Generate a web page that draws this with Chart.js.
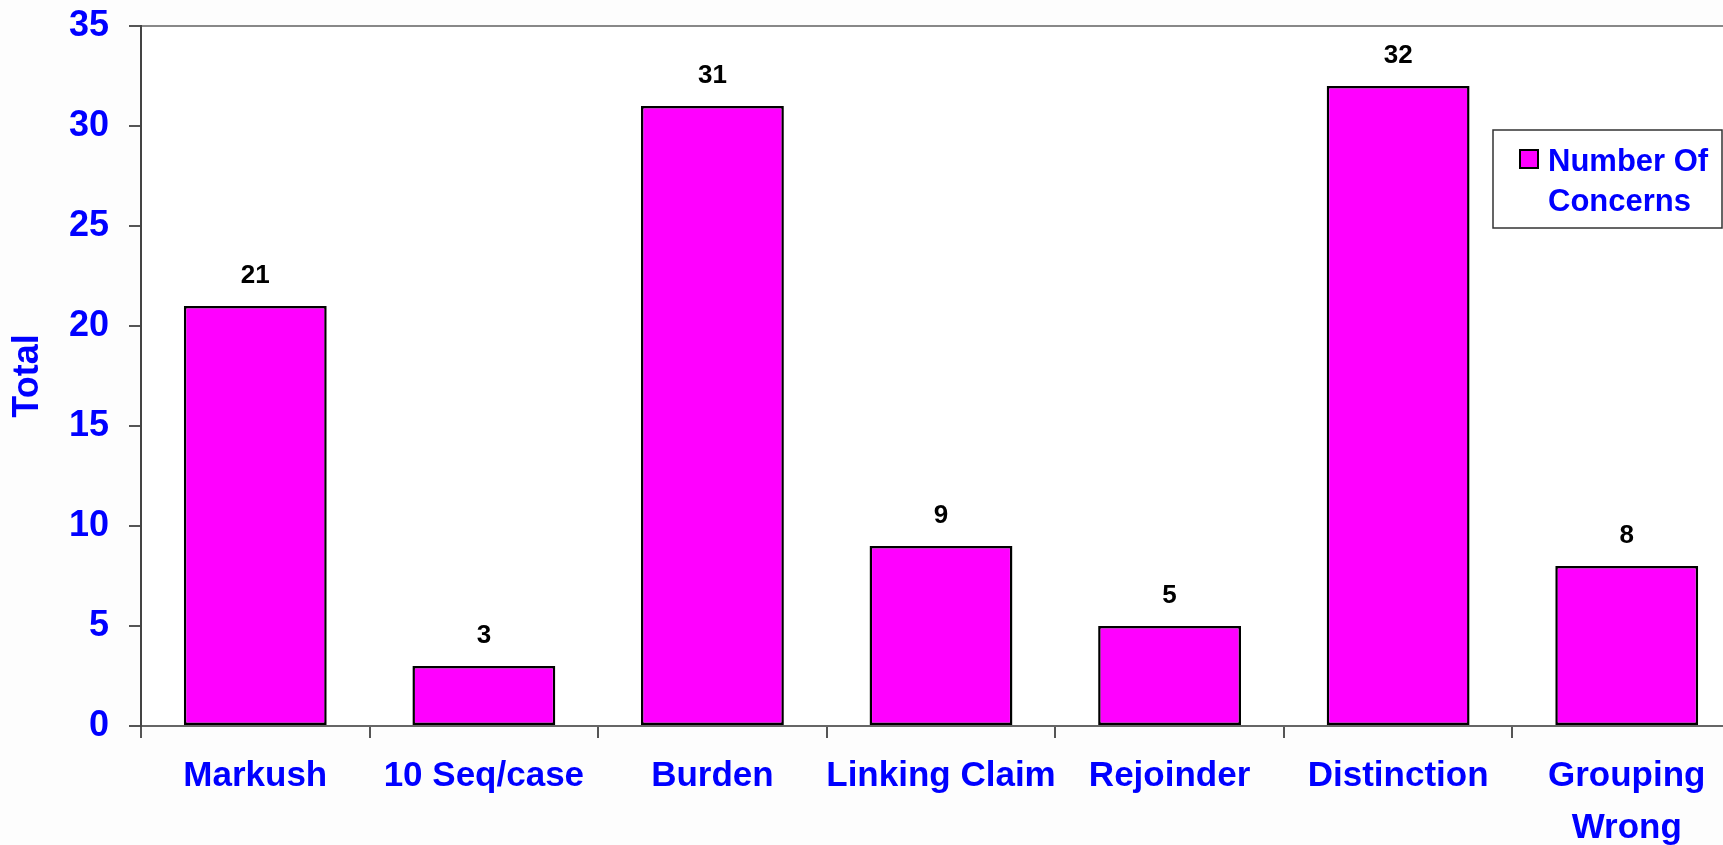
<!DOCTYPE html>
<html>
<head>
<meta charset="utf-8">
<title>Number Of Concerns</title>
<script src="https://cdn.jsdelivr.net/npm/chart.js@4.4.1/dist/chart.umd.min.js"></script>
<style>
  html, body { margin: 0; padding: 0; overflow: hidden; background: #fdfdfd; }
  #wrap { position: relative; width: 1745px; height: 845px; }
</style>
</head>
<body>
<div id="wrap"><canvas id="concerns-chart"></canvas></div>
<script>
// categories & values
const CATEGORIES = ['Markush', '10 Seq/case', 'Burden', 'Linking Claim', 'Rejoinder', 'Distinction', ['Grouping', 'Wrong']];
const CONCERNS = [21, 3, 31, 9, 5, 32, 8];
const SERIES_LABEL = ['Number Of', 'Concerns'];
const Y_TICKS = [0, 5, 10, 15, 20, 25, 30, 35];

const BLUE = '#0000FF';
const MAGENTA = '#FF00FF';
const FONT = 'Arial, "Liberation Sans", sans-serif';

// value labels above each bar
const barValuePlugin = {
  id: 'barValues',
  afterDatasetsDraw(chart) {
    const { ctx } = chart;
    const meta = chart.getDatasetMeta(0);
    ctx.save();
    ctx.font = `bold 26px ${FONT}`;
    ctx.fillStyle = '#000';
    ctx.textAlign = 'center';
    ctx.textBaseline = 'alphabetic';
    meta.data.forEach((bar, i) => {
      ctx.fillText(String(chart.data.datasets[0].data[i]), bar.x, bar.y - 23);
    });
    ctx.restore();
  }
};

// boxed legend with a two-line label, like the original
const boxLegendPlugin = {
  id: 'boxLegend',
  afterDraw(chart) {
    const { ctx } = chart;
    const ds = chart.data.datasets[0];
    const x = 1493, y = 130, w = 229, h = 98;
    ctx.save();
    ctx.fillStyle = '#fff';
    ctx.fillRect(x, y, w, h);
    ctx.strokeStyle = '#333';
    ctx.lineWidth = 1.5;
    ctx.strokeRect(x, y, w, h);
    ctx.fillStyle = ds.backgroundColor;
    ctx.fillRect(x + 27, y + 20, 18, 18);
    ctx.strokeStyle = '#000';
    ctx.lineWidth = 2;
    ctx.strokeRect(x + 27, y + 20, 18, 18);
    ctx.font = `bold 31px ${FONT}`;
    ctx.fillStyle = BLUE;
    ctx.textAlign = 'left';
    ctx.textBaseline = 'alphabetic';
    ds.label.forEach((line, i) => ctx.fillText(line, x + 55, y + 41 + i * 40));
    ctx.restore();
  }
};

const bgPlugin = {
  id: 'bg',
  beforeDraw(chart) {
    const { ctx, width, height, chartArea } = chart;
    ctx.save();
    ctx.fillStyle = '#fdfdfd';
    ctx.fillRect(0, 0, width, height);
    ctx.fillStyle = '#ffffff';
    ctx.fillRect(chartArea.left, chartArea.top, chartArea.right - chartArea.left, chartArea.bottom - chartArea.top);
    ctx.restore();
  }
};

new Chart(document.getElementById('concerns-chart'), {
  type: 'bar',
  data: {
    labels: CATEGORIES,
    datasets: [{
      label: SERIES_LABEL,
      data: CONCERNS,
      backgroundColor: MAGENTA,
      borderColor: '#000',
      borderWidth: 2.5,
      borderSkipped: false,
      barPercentage: 0.625,
      categoryPercentage: 1,
    }]
  },
  options: {
    responsive: true,
    maintainAspectRatio: false,
    animation: false,
    layout: { padding: { top: 26, right: 4, left: 0, bottom: 0 } },
    plugins: {
      legend: { display: false },
      tooltip: { enabled: false },
    },
    scales: {
      x: {
        grid: { drawOnChartArea: false, tickLength: 12, tickColor: '#555', lineWidth: 2, offset: true },
        border: { color: '#666', width: 2 },
        ticks: {
          color: BLUE,
          font: { family: FONT, size: 35, weight: 'bold', lineHeight: 1.5 },
          padding: 12,
          maxRotation: 0,
          autoSkip: false,
        },
        afterFit: s => { s.height = 119; s.paddingLeft = 0; s.paddingRight = 0; }
      },
      y: {
        min: 0,
        max: 35,
        afterBuildTicks: s => { s.ticks = Y_TICKS.map(v => ({ value: v })); },
        grid: {
          color: c => (c.tick && c.tick.value === 35 ? '#888' : 'rgba(0,0,0,0)'),
          tickColor: '#555',
          tickLength: 12,
          lineWidth: 2,
        },
        border: { color: '#444', width: 2 },
        ticks: {
          color: BLUE,
          font: { family: FONT, size: 36, weight: 'bold' },
          padding: 20,
        },
        title: {
          display: true,
          text: 'Total',
          color: BLUE,
          font: { family: FONT, size: 36, weight: 'bold' },
          padding: { top: 6, bottom: 0 },
        },
        afterFit: s => { s.width = 141; s.paddingTop = 0; s.paddingBottom = 0; }
      }
    }
  },
  plugins: [bgPlugin, barValuePlugin, boxLegendPlugin]
});
</script>
</body>
</html>
